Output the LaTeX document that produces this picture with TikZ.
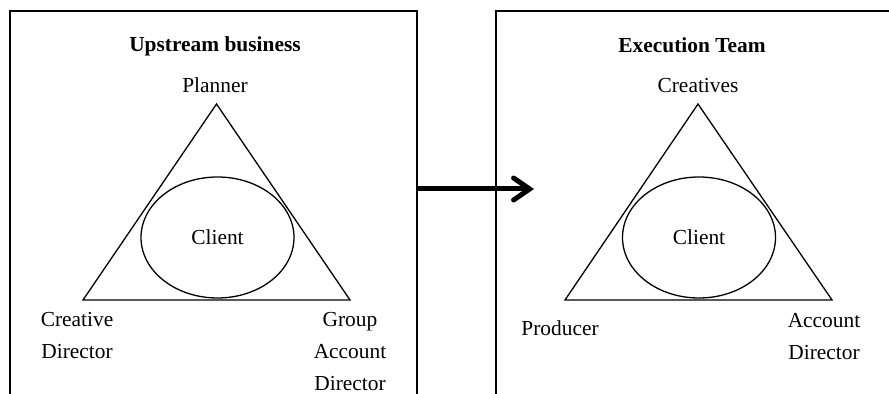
\documentclass[tikz,border=0pt]{standalone}
\usepackage{fontspec}
\setmainfont{Liberation Serif}
\usetikzlibrary{arrows.meta,positioning,shapes.geometric}

\begin{document}
\begin{tikzpicture}[
  x=0.5pt, y=-0.5pt,
  every node/.style={font=\fontsize{10.7pt}{16pt}\selectfont, inner sep=0pt},
  lbl/.style={anchor=base, align=center},
  head/.style={anchor=base, font=\fontsize{10.7pt}{16pt}\selectfont\bfseries},
  frame/.style={line width=0.7pt},
  tri/.style={line width=0.65pt, line join=miter},
  hub/.style={draw, ellipse, line width=0.65pt, minimum width=76.5pt, minimum height=60.5pt},
  arrow/.style={-{Straight Barb[length=8pt,width=11pt,line cap=round]}, line width=2.5pt}
]
\useasboundingbox (0,0) rectangle (889,394);

\draw[frame] (10,394) -- (10,11) -- (417,11) -- (417,394);
\draw[frame] (496,394) -- (496,11) -- (892,11);

\coordinate (upTop) at (216.5,104);
\coordinate (upLeft) at (83,300);
\coordinate (upRight) at (350,300);
\coordinate (exTop) at (698,104);
\coordinate (exLeft) at (565,300);
\coordinate (exRight) at (832,300);

\draw[tri] (upTop) -- (upLeft) -- (upRight) -- cycle;
\draw[tri] (exTop) -- (exLeft) -- (exRight) -- cycle;

\node[hub] (upClient) at (217.5,237.5) {Client};
\node[hub] (exClient) at (699,237.5) {Client};

\node[head] (upHead) at (215,52) {Upstream business};
\node[head] (exHead) at (692,53) {Execution Team};

\node[lbl] (planner) at (215,93) {Planner};
\node[lbl] (creaDir) at (77,359) {Creative\\Director};
\node[lbl] (groupAcc) at (350,391) {Group\\Account\\Director};
\node[lbl] (creatives) at (698,93) {Creatives};
\node[lbl] (producer) at (560,336) {Producer};
\node[lbl] (accDir) at (824,360) {Account\\Director};

\coordinate (arrStart) at (417,189);
\coordinate (arrEnd) at (534,189);
\draw[arrow] (arrStart) -- (arrEnd);
\end{tikzpicture}
\end{document}
